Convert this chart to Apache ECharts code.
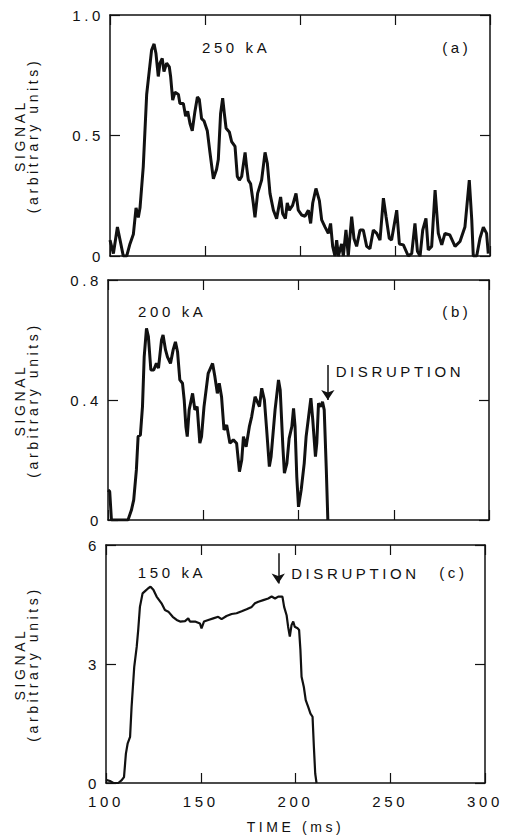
<!DOCTYPE html>
<html>
<head>
<meta charset="utf-8">
<script src="https://cdn.jsdelivr.net/npm/echarts@6/dist/echarts.min.js"></script>
<style>
  html, body { margin: 0; padding: 0; background: #fff; }
  #chart { width: 505px; height: 836px; }
  /* the original lettering is widely tracked */
  #chart svg text { letter-spacing: 3.6px; }
</style>
</head>
<body>
<div id="chart"></div>
<script>
// time (ms), signal
const shotA = [
  [100.0, 0.066], [101.8, 0.01], [103.9, 0.12], [105.3, 0.066], [107.0, 0], [108.8, 0],
  [110.5, 0.05], [112.3, 0.09], [113.7, 0.2], [114.9, 0.16], [115.8, 0.2], [117.5, 0.37],
  [119.3, 0.67], [120.7, 0.77], [121.9, 0.855], [123.2, 0.88], [124.2, 0.84], [125.4, 0.745],
  [126.3, 0.8], [127.5, 0.82], [128.4, 0.765], [129.8, 0.8], [131.2, 0.785], [131.9, 0.745],
  [133.0, 0.647], [134.2, 0.68], [136.0, 0.67], [136.8, 0.633], [138.6, 0.633], [139.8, 0.58],
  [140.9, 0.6], [142.1, 0.55], [143.3, 0.52], [144.7, 0.6], [146.0, 0.66], [147.0, 0.65],
  [148.2, 0.57], [149.5, 0.56], [151.2, 0.52], [152.6, 0.43], [154.4, 0.32], [156.1, 0.36],
  [157.0, 0.4], [158.2, 0.59], [159.3, 0.655], [160.2, 0.59], [161.1, 0.53], [162.8, 0.515],
  [164.0, 0.475], [165.8, 0.455], [167.0, 0.33], [168.1, 0.315], [169.3, 0.33], [171.1, 0.43],
  [171.9, 0.37], [172.8, 0.315], [174.0, 0.3], [175.4, 0.22], [176.3, 0.16], [177.7, 0.26],
  [179.8, 0.315], [181.6, 0.43], [182.8, 0.385], [184.2, 0.26], [186.0, 0.19], [187.7, 0.155],
  [189.8, 0.245], [190.9, 0.175], [192.3, 0.155], [193.3, 0.22], [194.4, 0.19], [196.1, 0.21],
  [197.9, 0.26], [199.1, 0.19], [200.9, 0.17], [202.6, 0.165], [204.4, 0.19], [205.6, 0.135],
  [206.7, 0.22], [208.4, 0.28], [210.2, 0.23], [211.4, 0.15], [213.2, 0.12], [214.9, 0.094],
  [216.1, 0.135], [217.2, 0.04], [218.4, 0], [219.3, 0.066], [220.2, 0], [221.9, 0.05],
  [222.8, 0], [224.2, 0.108], [225.4, 0], [227.2, 0.163], [228.4, 0.073], [229.8, 0.04],
  [231.6, 0.108], [233.3, 0.108], [235.1, 0.04], [236.8, 0.03], [238.6, 0.108], [240.4, 0.094],
  [242.1, 0.066], [243.9, 0.24], [245.3, 0.163], [247.0, 0.073], [248.2, 0.066], [250.9, 0.19],
  [252.3, 0.05], [254.4, 0.046], [257.0, 0], [258.8, 0.01], [260.5, 0.135], [261.8, 0.02],
  [263.2, 0], [264.6, 0.108], [266.3, 0.156], [267.5, 0.025], [269.3, 0.04], [271.1, 0.273],
  [272.8, 0.094], [274.6, 0.046], [276.3, 0.094], [278.9, 0.087], [281.6, 0.04], [284.2, 0.06],
  [286.8, 0.12], [289.1, 0.315], [290.4, 0.15], [291.2, 0], [293.0, 0], [294.7, 0.073],
  [296.5, 0.12], [298.2, 0.094], [299.1, 0.01]
];

const shotB = [
  [100.0, 0.1], [100.9, 0.095], [101.8, 0], [110.5, 0], [112.3, 0.033], [113.5, 0.067],
  [114.9, 0.167], [115.8, 0.278], [117.0, 0.283], [118.1, 0.378], [119.0, 0.544], [120.2, 0.639],
  [121.2, 0.611], [122.5, 0.5], [124.0, 0.5], [125.4, 0.522], [126.5, 0.506], [128.1, 0.6],
  [128.9, 0.617], [130.2, 0.567], [131.2, 0.544], [132.8, 0.522], [134.2, 0.567], [135.4, 0.594],
  [136.5, 0.561], [137.7, 0.467], [139.1, 0.456], [140.0, 0.4], [140.9, 0.311], [141.6, 0.278],
  [142.6, 0.367], [144.4, 0.422], [145.6, 0.367], [146.8, 0.378], [148.2, 0.256], [149.1, 0.278],
  [150.4, 0.378], [152.6, 0.489], [154.9, 0.522], [156.1, 0.478], [157.4, 0.422], [158.4, 0.456],
  [159.6, 0.411], [160.9, 0.3], [162.3, 0.317], [164.0, 0.256], [165.8, 0.267], [167.5, 0.256],
  [169.0, 0.161], [170.2, 0.2], [171.1, 0.278], [172.5, 0.244], [174.2, 0.311], [175.4, 0.344],
  [177.2, 0.411], [178.4, 0.394], [179.5, 0.378], [180.7, 0.439], [182.1, 0.4], [183.3, 0.3],
  [184.7, 0.178], [185.6, 0.211], [187.7, 0.367], [189.5, 0.467], [190.4, 0.433], [191.8, 0.244],
  [192.6, 0.156], [193.9, 0.189], [195.1, 0.272], [196.5, 0.311], [197.4, 0.372], [198.2, 0.311],
  [199.1, 0.144], [200.0, 0.044], [201.4, 0.1], [203.0, 0.189], [204.0, 0.278], [205.3, 0.344],
  [206.5, 0.406], [207.5, 0.333], [208.9, 0.211], [209.6, 0.256], [210.5, 0.389], [211.8, 0.378],
  [212.6, 0.394], [213.5, 0.367], [214.6, 0.167], [215.4, 0]
];

const shotC = [
  [100.0, 0.08], [102.1, 0.05], [103.9, 0], [106.5, 0], [108.3, 0.07], [109.5, 0.15],
  [110.5, 0.74], [111.4, 0.99], [112.7, 1.16], [113.5, 1.92], [114.9, 2.93], [116.2, 3.43],
  [117.0, 3.86], [117.9, 4.44], [119.3, 4.78], [120.9, 4.85], [122.3, 4.91], [123.5, 4.95],
  [125.0, 4.87], [126.7, 4.7], [129.3, 4.53], [131.1, 4.36], [132.9, 4.32], [135.2, 4.19],
  [137.3, 4.11], [139.1, 4.07], [141.7, 4.08], [143.4, 4.15], [144.3, 4.07], [147.0, 4.07],
  [149.6, 4.02], [150.4, 3.9], [151.7, 4.07], [154.0, 4.11], [156.6, 4.15], [159.2, 4.19],
  [161.0, 4.13], [163.6, 4.21], [166.3, 4.26], [168.9, 4.28], [171.6, 4.33], [174.2, 4.38],
  [176.9, 4.44], [178.6, 4.53], [180.4, 4.57], [183.0, 4.61], [185.6, 4.65], [187.4, 4.7],
  [189.2, 4.65], [190.9, 4.7], [193.1, 4.7], [194.0, 4.44], [195.3, 4.23], [196.1, 3.94],
  [197.0, 3.69], [197.9, 3.98], [198.8, 4.07], [199.6, 3.94], [201.1, 3.9], [201.9, 3.86],
  [202.6, 3.35], [203.2, 2.68], [204.4, 2.42], [205.4, 2.09], [206.7, 1.92], [207.9, 1.75],
  [209.0, 1.67], [209.7, 0.91], [210.4, 0.24], [211.1, 0]
];

// annotation positions in data units: [time, signal]
const currentLabels = ["250 kA", "200 kA", "150 kA"];
const currentLabelAt = [[148.4, 0.864], [115.8, 0.694], [116.8, 5.31]];
const panelLetters = ["(a)", "(b)", "(c)"];
const panelLetterAt = [[290.2, 0.864], [290.8, 0.694], [290.8, 5.31]];
const disruptionArrowB = [[215.4, 0.517], [215.4, 0.4]];
const disruptionTextB = [219.5, 0.494];
const disruptionArrowC = [[190.9, 5.79], [190.9, 5.03]];
const disruptionTextC = [197.7, 5.29];

const xTicks = [100, 150, 200, 250, 300];
const yRanges = [[0, 1, 0.5], [0, 0.8, 0.4], [0, 6, 3]];

const FONT = "Liberation Sans";
const INK = "#111";

const chart = echarts.init(document.getElementById("chart"), null, { renderer: "svg" });

// the scanned frames drift a little to the left going down the page
const grids = [
    { left: 110, right: 15, top: 15, height: 241 },
    { left: 108, right: 16, top: 280, height: 240 },
    { left: 106, right: 20, top: 545, height: 238 }
];

const axisLine = { show: true, onZero: false, lineStyle: { color: INK, width: 1.5 } };
const tick = { show: true, inside: true, length: 10, lineStyle: { color: INK, width: 1.2 } };

const xAxis = [];
const yAxis = [];
grids.forEach((g, i) => {
    const base = { type: "value", gridIndex: i, min: xTicks[0], max: xTicks[xTicks.length - 1], interval: 50, splitLine: { show: false }, axisLine, axisTick: tick };
    xAxis.push(Object.assign({}, base, {
        position: "bottom",
        axisLabel: { show: i === 2, color: INK, fontFamily: FONT, fontSize: 15, margin: 11 },
        name: i === 2 ? "TIME (ms)" : "",
        nameLocation: "middle",
        nameGap: 37,
        nameTextStyle: { color: INK, fontFamily: FONT, fontSize: 14 }
    }));
    xAxis.push(Object.assign({}, base, { position: "top", axisLabel: { show: false } }));

    const [ymin, ymax, step] = yRanges[i];
    const yBase = { type: "value", gridIndex: i, min: ymin, max: ymax, interval: step, splitLine: { show: false }, axisLine, axisTick: tick };
    yAxis.push(Object.assign({}, yBase, {
        position: "left",
        axisLabel: {
            color: INK, fontFamily: FONT, fontSize: 15, margin: 6,
            formatter: v => (v === 0 || i === 2) ? String(v) : v.toFixed(1)
        },
        name: "{a|SIGNAL}\n{b|(arbitrary units)}",
        nameLocation: "middle",
        nameRotate: 90,
        nameGap: 69 + (g.left - 108),
        nameTextStyle: {
            color: INK, fontFamily: FONT,
            rich: {
                a: { fontSize: 14, fontFamily: FONT, color: INK, lineHeight: 13 },
                b: { fontSize: 14, fontFamily: FONT, color: INK, lineHeight: 13 }
            }
        }
    }));
    yAxis.push(Object.assign({}, yBase, { position: "right", axisLabel: { show: false } }));
});

function textMarks(items) {
    return {
        symbol: "circle",
        symbolSize: 0,
        silent: true,
        data: items.map(([text, coord, side]) => ({
            coord,
            value: text,
            label: {
                show: true,
                position: side,
                distance: 0,
                formatter: text,
                color: INK,
                fontFamily: FONT,
                fontSize: 15
            }
        }))
    };
}

function arrow(points) {
    return {
        silent: true,
        symbol: ["none", "arrow"],
        symbolSize: 10,
        label: { show: false },
        itemStyle: { color: INK },
        lineStyle: { color: INK, width: 1.5, type: "solid" },
        data: [[{ coord: points[0] }, { coord: points[1] }]]
    };
}

const series = [
    {
        type: "line", xAxisIndex: 0, yAxisIndex: 0, data: shotA, showSymbol: false,
        lineStyle: { color: INK, width: 3 },
        markPoint: textMarks([[currentLabels[0], currentLabelAt[0], "right"], [panelLetters[0], panelLetterAt[0], "left"]])
    },
    {
        type: "line", xAxisIndex: 2, yAxisIndex: 2, data: shotB, showSymbol: false,
        lineStyle: { color: INK, width: 3 },
        markPoint: textMarks([
            [currentLabels[1], currentLabelAt[1], "right"],
            [panelLetters[1], panelLetterAt[1], "left"],
            ["DISRUPTION", disruptionTextB, "right"]
        ]),
        markLine: arrow(disruptionArrowB)
    },
    {
        type: "line", xAxisIndex: 4, yAxisIndex: 4, data: shotC, showSymbol: false,
        lineStyle: { color: INK, width: 2.2 },
        markPoint: textMarks([
            [currentLabels[2], currentLabelAt[2], "right"],
            [panelLetters[2], panelLetterAt[2], "left"],
            ["DISRUPTION", disruptionTextC, "right"]
        ]),
        markLine: arrow(disruptionArrowC)
    }
];

chart.setOption({
    backgroundColor: "#fff",
    animation: false,
    grid: grids,
    xAxis,
    yAxis,
    series
});

window.addEventListener("resize", () => chart.resize());
</script>
</body>
</html>
